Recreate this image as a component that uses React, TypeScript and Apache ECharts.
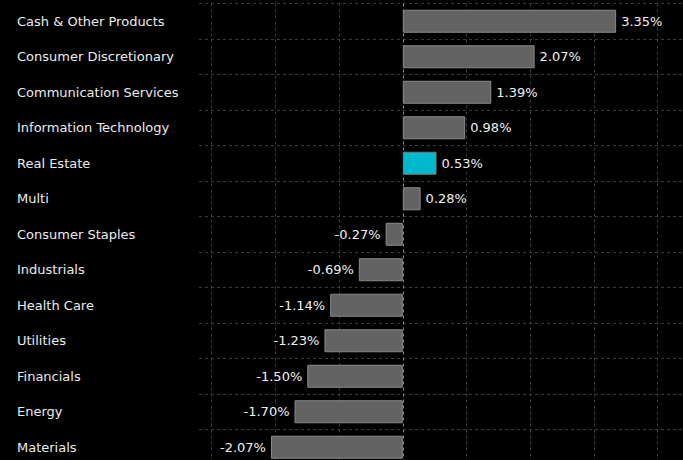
import React, { useEffect, useRef } from "react";
import * as echarts from "echarts";

const categories = [
  "Cash & Other Products",
  "Consumer Discretionary",
  "Communication Services",
  "Information Technology",
  "Real Estate",
  "Multi",
  "Consumer Staples",
  "Industrials",
  "Health Care",
  "Utilities",
  "Financials",
  "Energy",
  "Materials",
];
const values = [3.35, 2.07, 1.39, 0.98, 0.53, 0.28, -0.27, -0.69, -1.14, -1.23, -1.5, -1.7, -2.07];
const highlighted = "Real Estate";
const gridValues = [-3, -2, -1, 1, 2, 3, 4];

export default function App() {
  const ref = useRef<HTMLDivElement>(null);
  useEffect(() => {
    if (!ref.current) return;
    const chart = echarts.init(ref.current, null, { renderer: "svg" });
    const font = "DejaVu Sans";
    chart.setOption({
      animation: false,
      backgroundColor: "#000000",
      grid: { left: 199, right: 0, top: 3.5, height: 461.5, containLabel: false, outerBoundsMode: "none" },
      xAxis: {
        type: "value",
        min: -3.2,
        max: 4.4,
        axisLabel: { show: false },
        axisLine: { show: false },
        axisTick: { show: false },
        splitLine: { show: false },
      },
      yAxis: {
        type: "category",
        inverse: true,
        data: categories,
        axisLine: { show: false, onZero: false },
        axisTick: { show: false },
        axisLabel: {
          align: "left",
          margin: 182,
          color: "#ececec",
          fontFamily: font,
          fontSize: 13,
        },
        splitLine: {
          show: true,
          lineStyle: { color: "#3c3c3c", type: [3, 3], width: 1 },
        },
      },
      series: [
        {
          type: "bar",
          z: 3,
          barWidth: 23,
          data: values.map((v, i) => ({
            value: v,
            itemStyle: {
              color: categories[i] === highlighted ? "#00b8cc" : "#636363",
              borderColor: categories[i] === highlighted ? "#7a7a7a" : "#8a8a8a",
              borderWidth: 1,
            },
            label: { position: v >= 0 ? "right" : "left" },
          })),
          label: {
            show: true,
            color: "#f0f0f0",
            fontFamily: font,
            fontSize: 13,
            distance: 5,
            textBorderColor: "#000000",
            textBorderWidth: 3,
            formatter: (p: any) => p.value.toFixed(2) + "%",
          },
          markLine: {
            silent: true,
            z: 1,
            symbol: "none",
            label: { show: false },
            data: [
              ...gridValues.map((g) => ({
                xAxis: g,
                lineStyle: { color: "#3c3c3c", type: [3, 3], width: 1 },
              })),
              { xAxis: 0, lineStyle: { color: "#8a8a8a", type: [3, 3], width: 1 } },
            ],
          },
        },
      ],
    });
    return () => chart.dispose();
  }, []);
  return <div ref={ref} style={{ width: 683, height: 460, position: "fixed", left: 0, top: 0 }} />;
}
